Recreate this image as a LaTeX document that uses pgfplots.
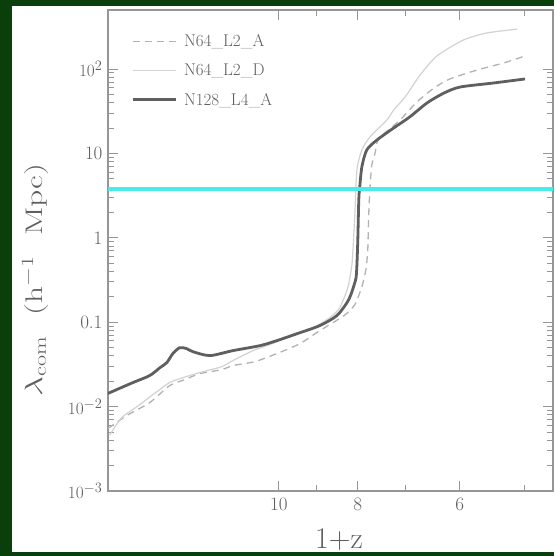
\documentclass[border=0pt]{standalone}
\usepackage{pgfplots}
\pgfplotsset{compat=1.18}
\definecolor{frame}{RGB}{10,62,10}
\definecolor{cyanline}{RGB}{72,236,236}
\definecolor{darkcurve}{RGB}{95,95,95}
\definecolor{lightcurve}{RGB}{210,210,210}
\definecolor{dashcurve}{RGB}{178,178,178}
\definecolor{axisgray}{RGB}{150,150,150}
\definecolor{textgray}{RGB}{95,95,95}

\begin{document}
\begin{tikzpicture}
\fill[frame] (0pt,0pt) rectangle (554pt,556pt);
\fill[white] (12pt,4pt) rectangle (554pt,550pt);
\useasboundingbox (0pt,0pt) rectangle (554pt,556pt);
\begin{axis}[
  at={(108pt,65pt)}, anchor=south west,
  scale only axis, width=445pt, height=481pt,
  xmode=log, ymode=log, x dir=reverse,
  xmin=4.61, xmax=16.2, ymin=1e-3, ymax=500,
  xtick={10,8,6}, xticklabels={10,8,6},
  minor xtick={9,7,5},
  ytick={0.001,0.01,0.1,1,10,100},
  yticklabels={$10^{-3}$,$10^{-2}$,0.1,1,10,$10^{2}$},
  tick align=inside,
  major tick length=10pt, minor tick length=6pt,
  axis line style={axisgray, line width=1.3pt},
  every tick/.style={axisgray, line width=0.9pt},
  tick label style={font=\fontsize{19}{22}\selectfont, text=textgray},
  xticklabel style={yshift=-3pt},
  yticklabel style={xshift=-2pt},
  every axis x label/.style={at={(axis description cs:0.519,0)}, anchor=center, yshift=-49pt},
  every axis y label/.style={at={(axis description cs:-0.164,0.439)}, rotate=90, anchor=center},
  xlabel={\fontsize{30}{34}\selectfont\color{textgray}1+z},
  ylabel={\color{textgray}\scalebox{1.4}[1]{\fontsize{24}{28}\selectfont$\lambda_{\rm com}$\ \ (h$^{-1}$\ \ Mpc)}},
  legend style={draw=none, fill=none, at={(axis description cs:0.045,0.958)}, anchor=north west,
    font=\fontsize{17}{19}\selectfont, text=textgray, row sep=12pt,
    /tikz/every odd column/.append style={column sep=5pt}},
  legend cell align=left,
  legend image code/.code={\draw[#1] (0pt,0pt) -- (43pt,0pt);},
]
\addplot[dashcurve, line width=1.3pt, dash pattern=on 7pt off 5pt, smooth, tension=0.4] coordinates {
(16.2,0.0055) (15.37,0.00782) (14.40,0.01114) (13.61,0.01774) (13.04,0.0209) (12.50,0.0246)
(11.75,0.0274) (11.39,0.0306) (10.70,0.0341) (10.06,0.0424) (9.42,0.0557) (8.91,0.0793)
(8.32,0.1194) (8.07,0.161) (7.91,0.263) (7.82,0.418) (7.78,0.721) (7.76,1.77) (7.73,4.01)
(7.69,7.31) (7.62,10.1) (7.56,14.4) (7.41,17.5) (7.10,24.9) (6.77,40.7) (6.45,59.6)
(6.17,76.2) (5.71,97.3) (5.30,117.8) (4.99,142.5)};
\addlegendentry{N64\_L2\_A}
\addplot[lightcurve, line width=1.2pt, smooth, tension=0.4] coordinates {
(16.12,0.0046) (15.58,0.00741) (14.81,0.01056) (13.68,0.0187) (13.23,0.0214) (12.50,0.0253)
(11.75,0.0297) (11.39,0.0350) (10.76,0.0460) (10.34,0.0527) (9.83,0.0638) (9.16,0.0815)
(8.66,0.113) (8.42,0.1485) (8.23,0.256) (8.14,0.454) (8.11,0.721) (8.07,1.77) (8.02,6.38)
(7.91,11.0) (7.73,15.7) (7.37,24.9) (7.23,32.7) (7.00,46.6) (6.71,84.9) (6.40,142.5)
(5.94,220) (5.56,267) (5.10,297)};
\addlegendentry{N64\_L2\_D}
\addplot[darkcurve, line width=2.8pt, smooth, tension=0.45] coordinates {
(16.21,0.0143) (15.11,0.0192) (14.40,0.0233) (13.99,0.0289) (13.72,0.0332) (13.49,0.0424)
(13.23,0.0499) (12.97,0.0486) (12.75,0.0448) (12.15,0.0402) (11.39,0.0460) (10.55,0.0527)
(10.06,0.0604) (9.50,0.0731) (8.91,0.0910) (8.49,0.1194) (8.25,0.170) (8.16,0.211)
(8.09,0.270) (8.04,0.336) (8.02,0.479) (8.00,0.947) (7.98,2.82) (7.96,3.91) (7.91,6.92)
(7.80,11.0) (7.58,14.4) (7.23,20.0) (6.91,27.0) (6.58,39.6) (6.27,52.0) (5.99,61.2)
(5.45,68.3) (4.99,76.2)};
\addlegendentry{N128\_L4\_A}
\addplot[cyanline, line width=3.5pt, forget plot] coordinates {(4.61,3.8) (16.2,3.8)};
\end{axis}
\end{tikzpicture}
\end{document}
